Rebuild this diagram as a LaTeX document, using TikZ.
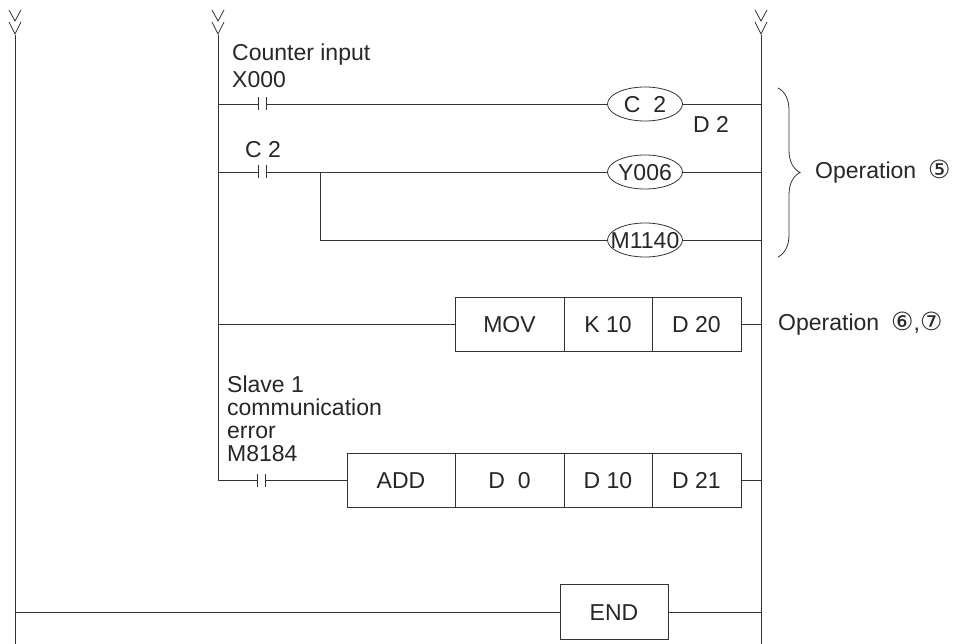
\documentclass[tikz,border=0pt]{standalone}
\usepackage{fontspec}
\setmainfont{Liberation Sans}
\newfontfamily\circfont{DejaVu Sans}
\newcommand{\circnum}[1]{{\circfont\fontsize{25}{23}\selectfont #1}}
\usetikzlibrary{positioning,shapes.geometric,decorations.pathreplacing}

\tikzset{
  rung/.style={line width=0.8pt, draw=black!80},
  contact/.style={minimum width=8pt, minimum height=13pt, inner sep=0pt, outer sep=0pt,
    append after command={(\tikzlastnode.north west) edge[rung] (\tikzlastnode.south west)
      (\tikzlastnode.north east) edge[rung] (\tikzlastnode.south east)}},
  coil/.style={minimum width=75pt, minimum height=34pt, inner sep=0pt, outer sep=0pt,
    text height=16.5pt, text depth=0pt},
  cell/.style={rung, minimum height=54pt, inner sep=0pt, outer sep=0pt,
    text height=16.5pt, text depth=0pt},
  lbl/.style={anchor=west, inner sep=0pt, align=left},
}

\begin{document}
\begin{tikzpicture}[x=1pt,y=1pt,yscale=-1,every node/.append style={font=\fontsize{23}{23}\selectfont, text=black!85}]
\useasboundingbox (0,0) rectangle (957,644);

%Rails
\coordinate (ltop) at (15,35);
\coordinate (lbot) at (15,644);
\coordinate (mtop) at (218,35);
\coordinate (rtop) at (761,35);
\coordinate (rbot) at (761,644);
\draw[rung] (ltop) -- (lbot);
\draw[rung] (rtop) -- (rbot);
%Break marks
\foreach \x in {15,218,761} {
  \draw[rung] (\x-6,10) -- (\x,21) -- (\x+6,10);
  \draw[rung] (\x-6,22) -- (\x,34) -- (\x+6,22);
}

% Rung 1 : counter
\node[contact] (x000) at (262,104) {};
\node[coil] (c2) at (645,104) {C\ \ 2};
\draw[rung] (mtop |- x000) -- (x000) -- (c2) -- (rtop |- c2);
% Text Node
\node[lbl] (cntlbl) at (232,55) {Counter input};
\node[lbl] (xlbl) at (232,80) {X000};
\node[lbl] (d2lbl) at (693,124) {D 2};

% Rung 2 : outputs
\node[contact] (c2k) at (262,172) {};
\node[coil] (y006) at (645,172) {Y006};
\node[coil] (m1140) at (645,240) {M1140};
\coordinate (br) at (320,172);
\draw[rung] (mtop |- c2k) -- (c2k) -- (y006) -- (rtop |- y006);
\draw[rung] (br) |- (m1140) -- (rtop |- m1140);
\foreach \n in {c2,y006,m1140}
  \draw[rung] (\n.center) ellipse [x radius=37.5pt, y radius=17pt];
% Text Node
\node[lbl] (c2lbl) at (245,150) {C 2};

%Brace
\draw[rung, decorate, decoration={brace, amplitude=22pt}] (778,88) -- (778,257);
\node[lbl] (op5) at (815,172) {Operation\hspace{12pt}\circnum{⑤}};

% Rung 3 : MOV
\node[cell, minimum width=109pt] (mov) at (509.5,324) {MOV};
\node[cell, minimum width=88pt, right=0pt of mov] (k10) {K 10};
\node[cell, minimum width=89pt, right=0pt of k10] (d20) {D 20};
\draw[rung] (mtop |- mov) -- (mov);
\draw[rung] (d20) -- (rtop |- d20);
\node[lbl] (op67) at (778,324) {Operation\hspace{12pt}\circnum{⑥},\circnum{⑦}};

% Rung 4 : ADD
\node[contact] (m8184) at (261,480) {};
\node[cell, minimum width=108pt] (add) at (401,480) {ADD};
\node[cell, minimum width=109pt, right=0pt of add] (d0) {D\ \ 0};
\node[cell, minimum width=88pt, right=0pt of d0] (d10) {D 10};
\node[cell, minimum width=89pt, right=0pt of d10] (d21) {D 21};
\draw[rung] (mtop) |- (m8184) -- (add);
\draw[rung] (d21) -- (rtop |- d21);
% Text Node
\node[lbl, anchor=north west] (slave) at (227,376) {Slave 1\\communication\\error\\M8184};

% Rung 5 : END
\node[cell, minimum width=108pt, minimum height=55pt] (endbox) at (614,612) {END};
\draw[rung] (ltop |- endbox) -- (endbox) -- (rtop |- endbox);

\end{tikzpicture}
\end{document}
